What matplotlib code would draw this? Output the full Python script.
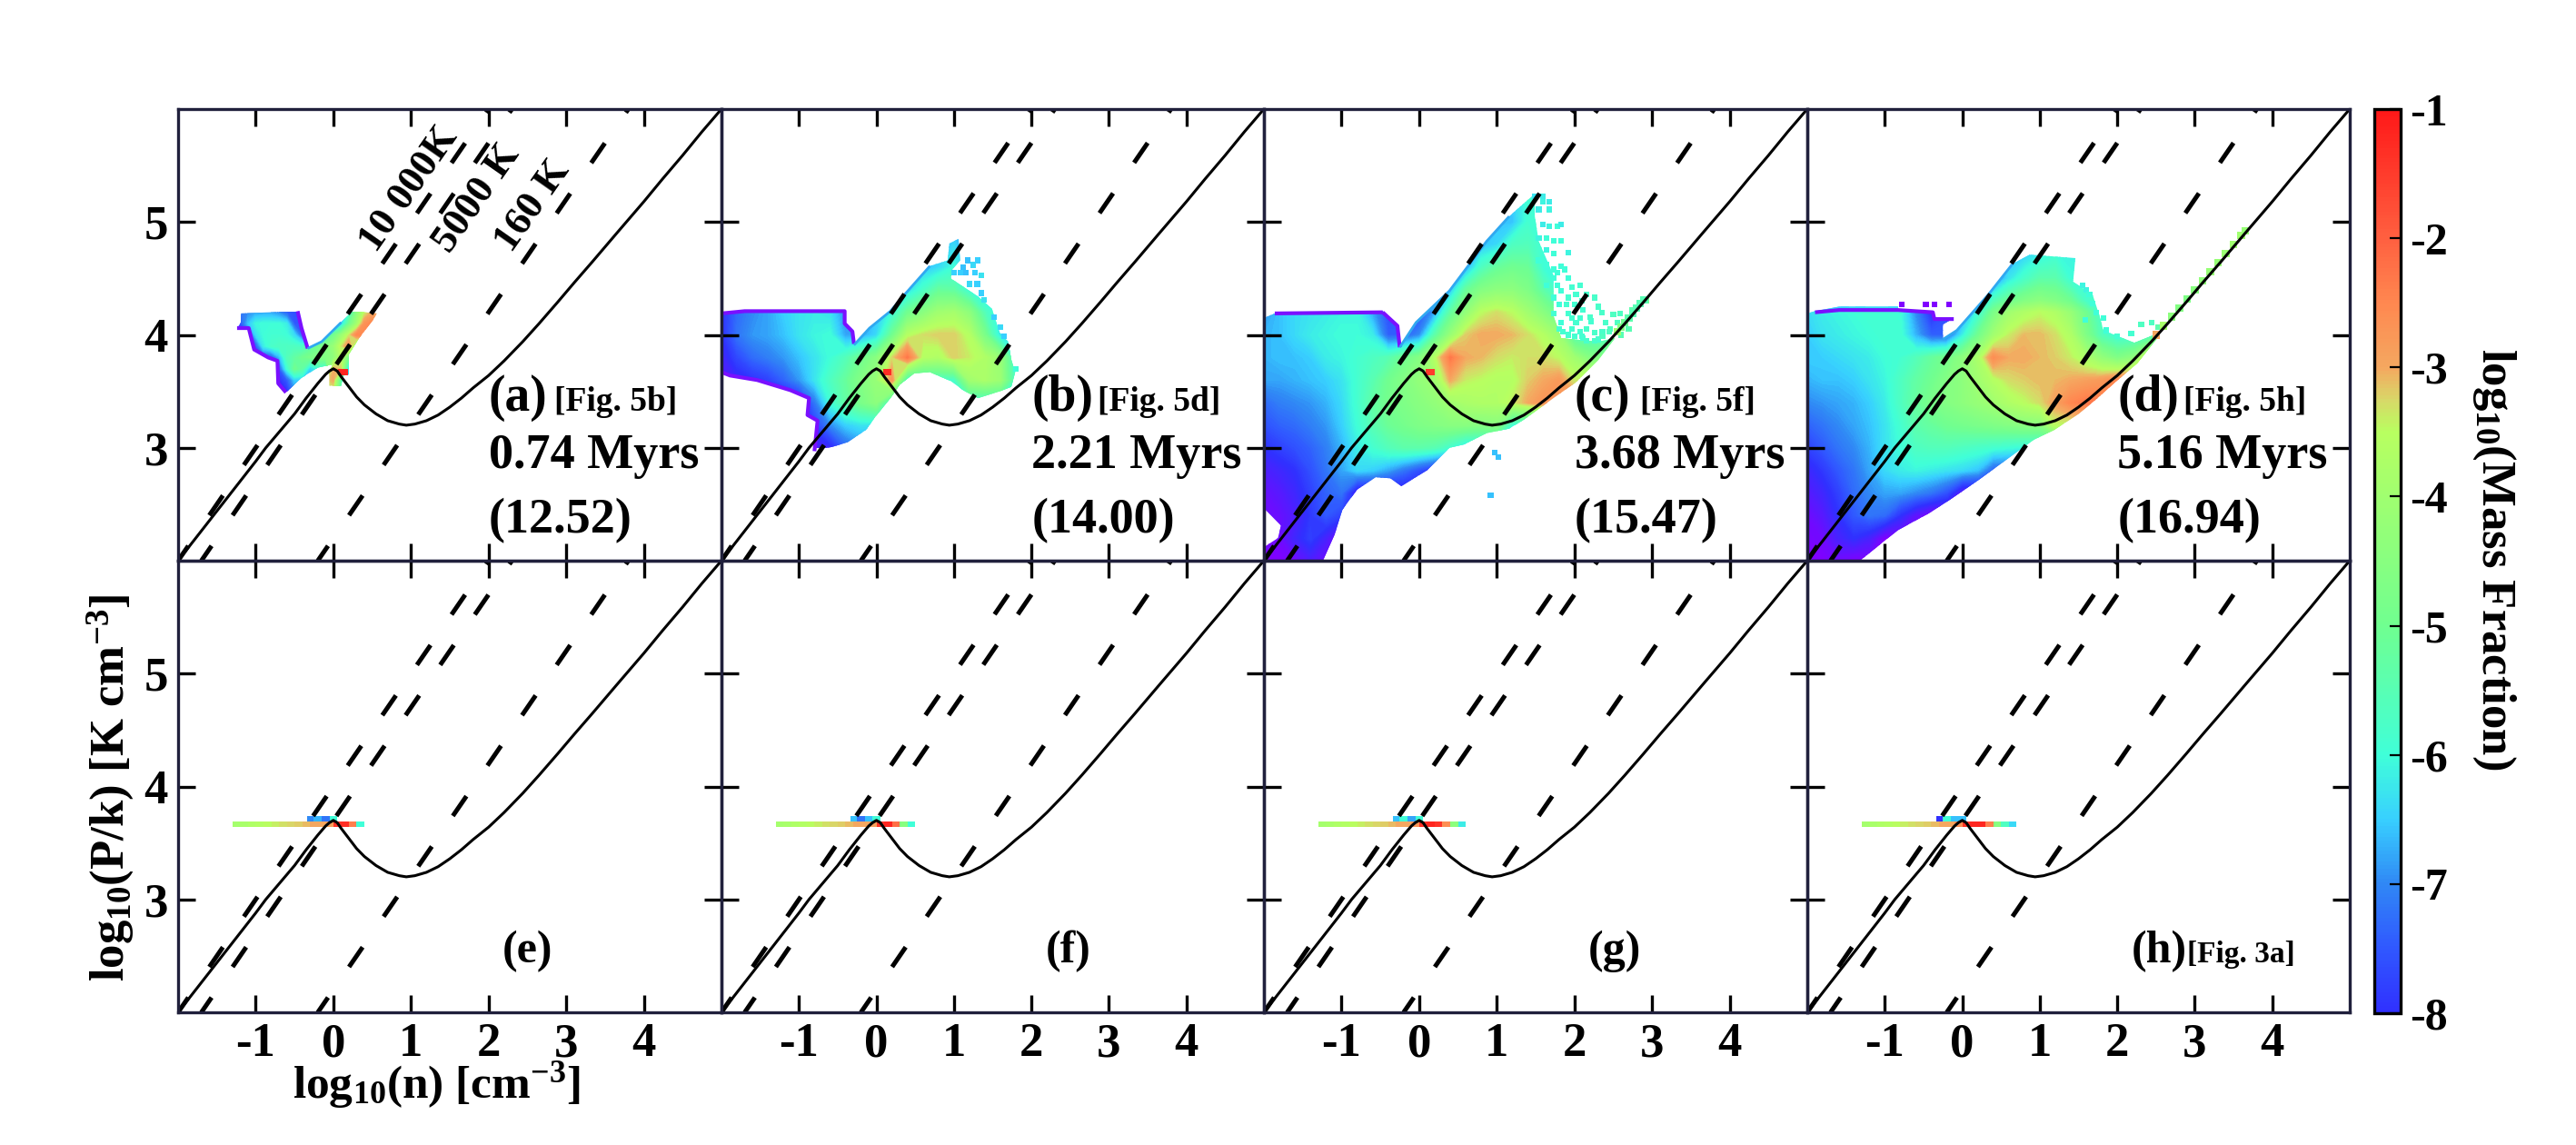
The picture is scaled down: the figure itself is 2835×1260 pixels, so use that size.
import numpy as np
import pandas as pd
import matplotlib
matplotlib.use('Agg')
import matplotlib.pyplot as plt
from matplotlib.cm import ScalarMappable
from matplotlib.colors import LinearSegmentedColormap, Normalize
from matplotlib.patches import Polygon

n = np.nan

# equilibrium curve
curve_x = [-2.0, -1.5, -1.0, -0.87, -0.5, -0.35, -0.2, -0.1, -0.05, 0.0, 0.05, 0.1, 0.2, 0.3, 0.4, 0.55, 0.7, 0.85, 0.94,
           1.05, 1.2, 1.35, 1.5, 1.65, 1.8, 2.0, 2.2, 2.44, 2.65, 2.89, 3.1, 3.34, 3.65, 4.0, 4.24, 4.5, 4.75, 5.0]
curve_y = [2.0, 2.44, 2.88, 3.0, 3.3, 3.44, 3.57, 3.65, 3.68, 3.7, 3.68, 3.63, 3.54, 3.45, 3.38, 3.3, 3.24, 3.21, 3.2,
           3.21, 3.24, 3.29, 3.36, 3.44, 3.53, 3.64, 3.77, 3.94, 4.1, 4.29, 4.46, 4.65, 4.9, 5.18, 5.38, 5.59, 5.8, 6.0]

# isotherms, end points (log n, log P/k)
iso_10000_x = [-2.0, 2.0]
iso_10000_y = [2.0, 6.0]
iso_5000_x = [-1.7, 2.3]
iso_5000_y = [2.0, 6.0]
iso_160_x = [-0.2, 3.8]
iso_160_y = [2.0, 6.0]

# colour anchors, -9 is the purple rim that the colour bar does not show
cmap_vals = [-9, -8, -7.5, -7, -6.5, -6, -5, -4, -3.5, -3.25, -3, -2.5, -2, -1]
cmap_cols = ['#8000ff', '#3030ff', '#3058ff', '#3088f5', '#38d0ff', '#40ffd8', '#70ff90', '#a0ff70', '#b8ff60',
             '#d8d868', '#f4a860', '#ff8850', '#ff6040', '#ff1818']

# outlines of the filled regions
outline_a_x = [-1.19, -0.46, -0.41, -0.33, -0.15, 0.1, 0.25, 0.56, 0.51, 0.33, 0.2, 0.2, 0.13, 0.1, -0.05, -0.05, 0.0, -0.2,
               -0.41, -0.61, -0.71, -0.72, -0.84, -1.02, -1.09, -1.24, -1.19]
outline_a_y = [4.19, 4.21, 4.06, 3.88, 3.94, 4.11, 4.21, 4.19, 4.13, 3.97, 3.83, 3.65, 3.64, 3.55, 3.55, 3.68, 3.74, 3.71,
               3.62, 3.49, 3.57, 3.77, 3.8, 3.87, 4.06, 4.06, 4.11]
outline_b_x = [-2.0, -1.7, -0.41, -0.41, -0.31, -0.29, -0.21, -0.09, 0.18, 0.38, 0.69, 0.92, 0.94, 1.06, 1.08, 0.98, 0.96, 1.31,
               1.49, 1.59, 1.7, 1.74, 1.79, 1.74, 1.59, 1.31, 1.12, 0.96, 0.69, 0.49, 0.3, 0.18, -0.02, -0.13, -0.37, -0.56,
               -0.7, -0.8, -0.76, -0.89, -0.87, -1.11, -1.54, -1.89, -2.0]
outline_b_y = [4.19, 4.22, 4.22, 4.1, 4.03, 3.91, 3.97, 4.06, 4.21, 4.37, 4.61, 4.66, 4.81, 4.85, 4.66, 4.58, 4.5, 4.34,
               4.23, 4.02, 3.94, 3.78, 3.67, 3.54, 3.5, 3.44, 3.51, 3.59, 3.67, 3.66, 3.56, 3.44, 3.27, 3.16, 3.05, 3.01,
               2.99, 2.97, 3.24, 3.29, 3.44, 3.51, 3.6, 3.64, 3.67]
outline_c_x = [-2.0, -1.86, -0.47, -0.28, -0.25, -0.04, 0.39, 0.87, 1.16, 1.49, 1.49, 1.54, 1.73, 1.73, 1.83, 2.31, 2.52, 2.31,
               2.02, 1.73, 1.49, 1.35, 1.16, 0.87, 0.58, 0.39, 0.1, -0.23, -0.37, -0.56, -0.8, -0.99, -1.09, -1.24, -2.0,
               -2.0, -1.82, -1.78, -1.98, -2.0]
outline_c_y = [4.15, 4.19, 4.21, 4.08, 3.89, 4.11, 4.39, 4.83, 5.05, 5.25, 5.05, 4.83, 4.53, 4.17, 3.97, 3.94, 3.97, 3.78,
               3.58, 3.44, 3.32, 3.25, 3.17, 3.13, 3.03, 3.0, 2.8, 2.66, 2.73, 2.74, 2.63, 2.45, 2.23, 2.0, 2.0,
               2.12, 2.2, 2.31, 2.45, 2.45]
outline_d_x = [-2.0, -1.9, -1.59, -0.83, -0.83, -0.38, -0.36, -0.11, -0.25, -0.25, -0.07, 0.34, 0.65, 0.87, 1.46, 1.43, 1.68,
               1.77, 1.82, 2.22, 2.44, 2.55, 2.26, 1.99, 1.73, 1.5, 1.19, 0.92, 0.74, 0.2, -0.16, -0.43, -0.83, -1.05, -1.32, -2.0]
outline_d_y = [4.19, 4.21, 4.25, 4.25, 4.21, 4.21, 4.15, 4.15, 4.09, 3.96, 4.04, 4.36, 4.63, 4.71, 4.68, 4.47, 4.36,
               4.17, 4.04, 3.93, 3.99, 4.0, 3.75, 3.59, 3.43, 3.3, 3.16, 3.07, 2.98, 2.71, 2.54, 2.42, 2.27, 2.15, 2.0, 2.0]

# purple edge pieces
rim_a_x = [-1.24, -1.09, -1.02, -0.84, -0.72, -0.71, -0.61]
rim_a_y = [4.06, 4.06, 3.87, 3.8, 3.77, 3.57, 3.49]
rim_a2_x = [-0.46, -0.41, -0.33]
rim_a2_y = [4.21, 4.06, 3.88]
rim_b_x = [-2.0, -1.7, -0.41, -0.41, -0.31, -0.29]
rim_b_y = [4.19, 4.21, 4.21, 4.1, 4.03, 3.92]
rim_b2_x = [-2.0, -1.89, -1.54, -1.11, -0.87, -0.89, -0.76, -0.8]
rim_b2_y = [3.67, 3.64, 3.6, 3.51, 3.44, 3.29, 3.24, 2.97]
rim_c_x = [-1.86, -0.47]
rim_c_y = [4.19, 4.2]
rim_c2_x = [-0.47, -0.28, -0.25]
rim_c2_y = [4.2, 4.08, 3.89]
rim_d_x = [-1.9, -1.59, -0.83, -0.38, -0.36, -0.11]
rim_d_y = [4.2, 4.22, 4.22, 4.2, 4.14, 4.14]
# thin blue edge up the 10 000 K side
edge_a_x = [-0.33, -0.15, 0.1]
edge_a_y = [3.88, 3.94, 4.11]
edge_b_x = [-0.29, -0.09, 0.18, 0.38, 0.69]
edge_b_y = [3.91, 4.06, 4.21, 4.37, 4.61]
edge_c_x = [-0.25, -0.04, 0.39, 0.87, 1.16]
edge_c_y = [3.89, 4.11, 4.39, 4.83, 5.05]
edge_d_x = [-0.25, -0.07, 0.34, 0.65]
edge_d_y = [3.96, 4.04, 4.36, 4.63]

# rows: (log P/k, first log n, values every 0.2 dex in log n)
panel_b_rows = [
    (4.9, 0.8, [-6.6, -6.6, -6.6]),
    (4.6, 0.6, [-6.6, -6.4, -6.0, -6.6, -6.6]),
    (4.4, 0.2, [-6.6, -6.4, -5.8, -5.2, -5.3, -6.0, -6.6, -6.6]),
    (4.2, -2.0, [-8.0, -7.3, -7.0, -6.8, -6.5, -6.3, -6.2, -6.3, -7.0, n, -6.6, -6.0, -5.0, -4.5, -4.0, -3.9, -4.4, -5.6, -6.3]),
    (4.0, -2.0, [-8.0, -7.2, -6.9, -6.8, -6.6, -6.3, -6.1, -6.0, -6.8, n, -6.4, -5.0, -3.6, -3.3, -3.2, -3.2, -3.6, -4.8, -6.3]),
    (3.8, -2.0, [-8.3, -7.7, -7.3, -7.1, -6.9, -6.6, -6.3, -6.0, -5.6, -5.0, -4.5, -3.3, -2.3, -3.6, -3.7, -3.2, -3.4, -3.7, -4.2, -6.0]),
    (3.6, -2.0, [-8.4, -8.2, -8.0, -7.8, -7.4, -6.9, -6.3, -5.7, -5.2, -4.6, -4.2, -2.7, -5.8, n, n, -5.8, -4.0, -3.8, -4.1, -5.8]),
    (3.4, -2.0, [-8.6, -8.6, -8.6, -8.6, -8.6, -8.2, -7.2, -6.0, -5.3, -4.8, -4.4, -6.0]),
    (3.2, -1.0, [-8.4, -7.8, -7.0, -6.5, -6.3, -6.3]),
    (3.0, -1.0, [-8.6, -8.4, -8.2, -7.4, -7.0, -7.0]),
]
panel_c_rows = [
    (5.4, 1.2, [-6.4, -6.0, -6.2]),
    (5.0, 1.0, [-6.6, -6.6, -5.9, -6.0, -6.0]),
    (4.8, 0.8, [-6.6, -6.4, -5.7, -5.6, -6.0, -6.0]),
    (4.6, 0.6, [-6.8, -5.7, -5.2, -5.0, -5.1, -6.0]),
    (4.4, 0.4, [-6.6, -5.2, -4.6, -4.4, -4.4, -4.7, -5.4, -6.0]),
    (4.2, -2.0, [-6.9, -6.6, -6.4, -6.3, -6.2, -6.1, -6.1, -6.8, -7.6, n, n, -6.8, -5.3, -4.3, -3.5, -3.3, -3.5, -4.0, -4.5, -5.1, -5.9]),
    (4.0, -2.0, [-6.7, -6.6, -6.4, -6.2, -6.1, -6.0, -6.0, -6.2, -7.4, n, -7.0, -5.4, -4.2, -3.2, -3.0, -3.0, -3.1, -3.3, -3.6, -4.1, -5.6, -5.8, -5.8, -4.8]),
    (3.8, -2.0, [-6.7, -6.6, -6.6, -6.5, -6.2, -6.1, -5.9, -5.7, -5.5, -5.0, -4.6, -3.6, -2.3, -3.0, -3.1, -3.3, -3.4, -3.3, -3.3, -3.5, -4.0, -4.6]),
    (3.6, -2.0, [-6.8, -6.8, -6.7, -6.6, -6.5, -6.3, -5.9, -5.5, -5.0, -4.6, -4.3, -4.0, -3.0, -3.4, -3.5, -3.6, -3.6, -3.2, -3.0, -2.8, -3.4]),
    (3.4, -2.0, [-7.3, -7.1, -7.0, -6.9, -6.7, -6.4, -5.9, -5.3, -4.9, -4.7, -4.5, -4.3, -4.0, -3.8, -3.7, -3.7, -3.4, -3.0, -2.7]),
    (3.2, -2.0, [-7.6, -7.4, -7.3, -7.1, -6.9, -6.5, -6.0, -5.5, -5.1, -4.9, -4.7, -4.6, -4.5, -4.5, -4.6, -4.5, -6.0]),
    (3.0, -2.0, [-8.0, -7.8, -7.6, -7.4, -7.1, -6.7, -6.2, -5.9, -5.6, -5.4, -5.4, -5.5, -5.9, -6.4]),
    (2.8, -2.0, [-8.4, -8.2, -8.0, -7.6, -7.2, -6.8, -6.4, -6.5, -6.8, -7.2, -7.6, -8.0]),
    (2.6, -2.0, [-8.7, -8.5, -8.2, -7.8, -7.4, -7.2, -8.4]),
    (2.4, -1.8, [-8.7, -8.4, -7.9, -7.5, -7.8]),
    (2.2, -1.8, [-8.8, -8.2, -7.8, -8.3, -9]),
    (2.0, -2.0, [-9, -9, -8.8, -8.4, -8.8]),
]
panel_d_rows = [
    (4.8, 0.6, [-6.8, -6.8, -6.5, -6.2, -6.2, -6.2]),
    (4.5, 0.4, [-7.2, -6.3, -5.8, -5.4, -5.4, -6.0]),
    (4.3, 0.2, [-7.0, -5.6, -5.0, -4.6, -4.4, -4.6, -5.0, -5.8]),
    (4.2, -2.0, [-6.4, -6.2, -6.1, -6.0, -5.9, -5.9, -6.0, -7.0, -8.0, -7.6, -7.0, -6.0, -4.8, -4.0, -3.7, -3.5, -3.7, -4.2, -5.0, -5.9]),
    (4.0, -2.0, [-6.5, -6.3, -6.2, -6.1, -6.0, -5.9, -5.9, -6.7, -7.4, -7.4, -6.2, -5.0, -4.0, -3.4, -3.1, -3.1, -3.3, -3.7, -4.7, -5.6, -6.0, -6.0, -5.8, -5.0]),
    (3.8, -2.0, [-6.5, -6.5, -6.4, -6.3, -6.2, -6.0, -5.9, -5.6, -5.2, -4.9, -4.4, -3.8, -2.6, -3.0, -3.0, -3.1, -3.2, -3.4, -3.8, -4.3, -4.7, -4.4, -3.2]),
    (3.6, -2.0, [-6.7, -6.6, -6.6, -6.5, -6.3, -6.1, -5.7, -5.3, -5.0, -4.6, -4.4, -4.0, -3.6, -3.3, -3.2, -3.1, -3.1, -3.0, -2.9, -2.8, -2.5]),
    (3.4, -2.0, [-7.0, -6.9, -6.8, -6.7, -6.5, -6.2, -5.7, -5.2, -4.8, -4.6, -4.4, -4.2, -4.0, -3.7, -3.5, -3.3, -2.9, -2.5, -2.3]),
    (3.2, -2.0, [-7.4, -7.2, -7.0, -6.8, -6.6, -6.3, -5.9, -5.4, -5.2, -5.0, -4.9, -4.8, -4.7, -4.6, -4.5, -4.5, -3.5]),
    (3.0, -2.0, [-7.8, -7.5, -7.2, -7.0, -6.7, -6.3, -6.0, -5.7, -5.6, -5.6, -5.7, -5.8, -5.9, -6.0, -6.1]),
    (2.8, -2.0, [-8.2, -7.9, -7.5, -7.2, -6.8, -6.4, -6.2, -6.1, -6.2, -6.3, -6.4, -6.6, -7.4]),
    (2.6, -2.0, [-8.5, -8.2, -7.8, -7.3, -7.0, -6.8, -6.8, -7.0, -7.2, -7.6, -8.6]),
    (2.4, -2.0, [-8.8, -8.5, -8.0, -7.5, -7.2, -7.3, -8.0, -8.6, -9]),
    (2.2, -2.0, [-8.9, -8.8, -8.3, -8.0, -8.3, -9]),
    (2.0, -2.0, [-9, -9, -8.8, -9]),
]
# panel a is small, values every 0.1 dex
panel_a_rows = [
    (4.2, -1.3, [-7.2, -7.2, -7.0, -6.8, -6.8, -6.8, -7.0, -7.4, -7.6, n, n, n, n, n, n, -6.0, -4.5, -3.5, -3.0, -3.0]),
    (4.1, -1.3, [-7.6, -7.6, -6.6, -6.1, -6.0, -6.0, -6.0, -6.2, -7.5, n, n, n, n, n, -6.5, -5.0, -4.0, -2.7, -2.5, -2.5]),
    (4.0, -1.3, [n, n, -7.6, -6.4, -6.0, -5.9, -5.9, -6.0, -6.4, -7.4, -7.0, -6.8, -6.0, -5.0, -4.2, -3.4, -2.5, -2.5]),
    (3.9, -1.0, [-7.5, -6.2, -5.8, -5.7, -5.7, -5.7, -5.8, -5.4, -5.0, -4.6, -4.2, -3.4, -2.6, -4.5]),
    (3.8, -0.8, [-7.5, -6.7, -5.6, -5.3, -5.0, -4.8, -4.6, -4.6, -4.4, -3.6, -5.0]),
    (3.7, -0.7, [-7.5, -6.0, -5.0, -5.3, -6.5, -6.0, -6.0, -3.0, -3.2, -6.7]),
    (3.6, -0.7, [-8.0, -7.5, -6.5, -6.5, -6.5, -6.0, -3.3, -3.0, -5.5, -6.5]),
    (3.5, -0.7, [-8.0, -8.0, -7.0, -7.0, -7.0, -7.0, -3.5, -3.5, -5.5, -6.5]),
]

# single cells outside the filled part: x, y, value
cells_a_x = [0.1, 0.15]
cells_a_y = [3.67, 3.67]
cells_a_v = [-1.2, -1.2]
cells_b_x = [1.12, 1.18, 1.25, 1.31, 1.0, 1.08, 1.15, 1.27, 1.35, 1.2, 1.3, 1.35, 1.39, 1.52, 1.6, 1.65, 1.8, 0.12, 0.16]
cells_b_y = [4.6, 4.66, 4.62, 4.66, 4.55, 4.55, 4.55, 4.55, 4.53, 4.45, 4.45, 4.37, 4.31, 4.16, 4.07, 3.99, 3.7, 3.67, 3.67]
cells_b_v = [-6.6, -6.6, -6.4, -6.5, -6.5, -6.5, -6.6, -6.5, -6.3, -6.4, -6.5, -6.5, -6.3, -6.5, -6.4, -6.5, -6.0, -1.3, -1.3]
cells_c_x = [1.49, 1.59, 1.59, 1.68, 1.54, 1.68, 1.59, 1.68, 1.78, 1.83, 1.54, 1.64, 1.73, 1.83, 1.64, 1.73, 1.92, 1.54, 1.64, 1.73,
             1.83, 1.73, 1.92, 1.64, 1.83, 2.07, 1.73, 1.92, 2.02, 2.16, 2.26, 1.73, 1.92, 2.11, 2.31, 2.5, 2.59, 2.74, 1.83, 2.02,
             2.21, 2.4, 2.55, 1.92, 2.11, 2.31, 2.45, 2.83, 2.93, 0.97, 1.02, 0.92, 0.12, 0.17,
             1.78, 1.87, 1.78, 1.97, 1.8, 1.9, 2.0, 2.1, 1.8, 1.97, 2.07, 2.2, 2.35, 1.85, 1.97, 2.07, 2.16, 2.26, 2.36, 2.46, 2.65, 2.7,
             2.0, 2.1, 2.16, 2.26, 2.36, 2.6]
cells_c_y = [5.23, 5.23, 5.18, 5.18, 5.11, 5.11, 4.98, 4.96, 4.96, 4.98, 4.86, 4.86, 4.83, 4.83, 4.75, 4.72, 4.73, 4.66, 4.62, 4.58,
             4.61, 4.5, 4.5, 4.44, 4.39, 4.44, 4.33, 4.33, 4.36, 4.36, 4.33, 4.19, 4.19, 4.22, 4.25, 4.18, 4.19, 4.22, 4.11, 4.11,
             4.12, 4.11, 4.11, 4.0, 3.97, 3.96, 4.03, 4.28, 4.3, 2.96, 2.92, 2.58, 3.67, 3.67,
             4.55, 4.58, 4.44, 4.42, 4.27, 4.27, 4.27, 4.3, 4.05, 4.15, 4.15, 4.16, 4.2, 4.03, 4.05, 4.03, 4.05, 4.02, 4.03, 4.05, 4.1, 4.05,
             3.99, 3.99, 3.95, 3.95, 3.99, 4.0]
cells_c_v = [-6.3, -6.2, -6.1, -6.2, -6.2, -6.1, -6.2, -6.1, -6.0, -6.2, -6.1, -6.0, -6.0, -6.0, -6.1, -6.0, -6.1, -6.0, -6.0, -6.0,
             -6.0, -6.0, -6.0, -6.0, -6.0, -5.9, -6.0, -5.9, -5.9, -5.8, -5.8, -5.9, -5.9, -5.9, -5.8, -5.7, -5.7, -5.4, -6.0, -5.9,
             -5.9, -5.8, -5.7, -5.9, -5.9, -5.9, -5.7, -5.0, -4.8, -6.6, -6.6, -6.6, -1.5, -1.5,
             -6.0, -6.0, -6.0, -5.9, -6.0, -5.9, -5.9, -5.9, -5.9, -5.9, -5.9, -5.8, -5.8, -5.9, -5.9, -5.9, -5.8, -5.8, -5.8, -5.7, -5.4, -5.5,
             -5.9, -5.9, -5.8, -5.8, -5.7, -5.5]
cells_d_x = [1.55, 1.6, 1.64, 1.68, 1.73, 1.82, 1.59, 1.86, 2.0, 2.18, 2.31, 2.44, 2.53, -0.17, -0.47, -0.78, -0.36]
cells_d_y = [4.44, 4.4, 4.36, 4.28, 4.2, 4.15, 4.13, 4.04, 3.99, 4.01, 4.09, 4.11, 4.07, 4.27, 4.27, 4.27, 4.27]
cells_d_v = [-6.1, -6.1, -6.0, -6.0, -6.0, -6.0, -6.0, -6.0, -5.9, -5.9, -5.7, -5.7, -5.4, -9, -9, -9, -9]

# thin band right above the curve
band_c_x = [2.55, 2.6, 2.65, 2.7, 2.75, 2.8, 2.85, 2.9]
band_c_y = [4.03, 4.07, 4.11, 4.15, 4.19, 4.24, 4.28, 4.31]
band_c_v = [-4.0, -4.6, -5.0, -5.4, -5.5, -5.5, -5.5, -5.5]
band_d_x = [2.5, 2.6, 2.7, 2.8, 2.9, 3.0, 3.1, 3.2, 3.3, 3.4, 3.5, 3.6, 3.65]
band_d_y = [4.0, 4.08, 4.16, 4.24, 4.32, 4.4, 4.48, 4.56, 4.64, 4.72, 4.8, 4.88, 4.92]
band_d_v = [-3.0, -3.8, -4.4, -4.6, -4.7, -4.5, -4.3, -4.2, -4.2, -4.1, -4.0, -4.0, -4.2]

# the IC line in the lower row: values every 0.1 dex, starting at log n = -1.3
line_e = [-3.9, -3.8, -3.7, -3.6, -3.5, -3.4, -3.3, -3.25, -3.2, -3.1, -3.0, -3.0, -2.9, -1.4, -1.3, -2.4, -6.0]
line_f = [-3.9, -3.8, -3.7, -3.6, -3.5, -3.4, -3.3, -3.25, -3.2, -3.1, -3.0, -3.0, -2.9, -1.4, -1.2, -2.2, -4.5, -6.0]
line_g = [-3.9, -3.8, -3.7, -3.6, -3.5, -3.4, -3.3, -3.25, -3.2, -3.1, -3.0, -3.0, -2.7, -1.4, -1.2, -1.4, -2.6, -4.4, -6.2]
line_h = [-3.9, -3.8, -3.7, -3.6, -3.5, -3.4, -3.3, -3.25, -3.2, -3.1, -3.0, -3.0, -2.6, -1.4, -1.2, -1.2, -2.4, -4.5, -5.7, -6.4]
# cells just above it, near the peak
upper_x = [-0.3, -0.2, -0.1, 0.0]
upper_e = [-7.0, -6.7, -7.2, -6.0]
upper_f = [-6.6, -7.2, -6.6, -6.0]
upper_g = [-6.6, -6.0, -6.8, -6.0]
upper_h = [-8.0, -6.0, -6.6, -6.6]

panel_labels = ['(a)', '(b)', '(c)', '(d)', '(e)', '(f)', '(g)', '(h)']
fig_refs = ['[Fig. 5b]', '[Fig. 5d]', '[Fig. 5f]', '[Fig. 5h]', '', '', '', '[Fig. 3a]']
times = ['0.74 Myrs', '2.21 Myrs', '3.68 Myrs', '5.16 Myrs']
ages = ['(12.52)', '(14.00)', '(15.47)', '(16.94)']
x_ticks = [-1, 0, 1, 2, 3, 4]
x_tick_labels = ['-1', '0', '1', '2', '3', '4']
y_ticks = [3, 4, 5]
cbar_ticks = [-1, -2, -3, -4, -5, -6, -7, -8]
cbar_labels = ['-1', '-2', '-3', '-4', '-5', '-6', '-7', '-8']

plt.rcParams['font.family'] = 'Liberation Serif'
plt.rcParams['font.weight'] = 'bold'
plt.rcParams['mathtext.default'] = 'regular'

W, H = 2835.0, 1260.0
DARK = '#20203c'
PURPLE = '#7a10ff'
EDGE_BLUE = '#30a8f0'
cmap = LinearSegmentedColormap.from_list('mass', [((v + 9) / 8.0, c) for v, c in zip(cmap_vals, cmap_cols)], N=512)
norm = Normalize(-9, -1)
levels = np.linspace(-9, -1, 161)


def px_axes(x0, x1, y0, y1):
    return fig.add_axes([x0 / W, 1 - y1 / H, (x1 - x0) / W, (y1 - y0) / H])


def draw_rows(ax, rows, dx, out_x, out_y):
    x0 = min(r[1] for r in rows)
    x1 = max(r[1] + dx * (len(r[2]) - 1) for r in rows)
    nx = int(round((x1 - x0) / dx)) + 1
    xs = x0 + dx * np.arange(nx)
    rows = sorted(rows, key=lambda r: r[0])
    ys = [r[0] for r in rows]
    z = np.full((len(ys), nx), np.nan)
    for j, r in enumerate(rows):
        i0 = int(round((r[1] - x0) / dx))
        z[j, i0:i0 + len(r[2])] = r[2]
    # nodes that fall outside the outline only need some value, the outline clips them
    z = pd.DataFrame(z).ffill(axis=1).bfill(axis=1).to_numpy()
    cs = ax.contourf(xs, ys, z, levels=levels, cmap=cmap, norm=norm, extend='both', antialiased=False, zorder=1)
    cs.set_clip_path(Polygon(np.column_stack([out_x, out_y]), closed=True, transform=ax.transData))


def draw_cells(ax, x, y, v, size=20):
    ax.scatter(x, y, c=v, s=size, marker='s', cmap=cmap, norm=norm, linewidths=0, zorder=1.5)


def draw_rims(ax, pieces, color, lw):
    for px, py in pieces:
        ax.plot(px, py, color=color, lw=lw, solid_capstyle='butt', zorder=2)


def draw_ic_line(ax, vals, upper):
    edges = -1.3 + 0.1 * np.arange(len(vals) + 1)
    ax.pcolormesh(edges, [3.645, 3.69], np.array([vals]), cmap=cmap, norm=norm, zorder=1)
    up_edges = [upper_x[0] - 0.04] + [u + 0.05 for u in upper_x]
    ax.pcolormesh(up_edges, [3.69, 3.735], np.array([upper]), cmap=cmap, norm=norm, zorder=1)


fig = plt.figure(figsize=(W / 100, H / 100), dpi=100, facecolor='white')
x_edges = [196, 794, 1391, 1989, 2586]
y_edges = [120, 617, 1114]
rows_all = [panel_a_rows, panel_b_rows, panel_c_rows, panel_d_rows]
outlines = [(outline_a_x, outline_a_y), (outline_b_x, outline_b_y), (outline_c_x, outline_c_y), (outline_d_x, outline_d_y)]
cells_all = [(cells_a_x, cells_a_y, cells_a_v), (cells_b_x, cells_b_y, cells_b_v),
             (cells_c_x, cells_c_y, cells_c_v), (cells_d_x, cells_d_y, cells_d_v)]
rims_all = [[(rim_a_x, rim_a_y), (rim_a2_x, rim_a2_y)], [(rim_b_x, rim_b_y), (rim_b2_x, rim_b2_y)],
            [(rim_c_x, rim_c_y), (rim_c2_x, rim_c2_y)], [(rim_d_x, rim_d_y)]]
edges_all = [(edge_a_x, edge_a_y), (edge_b_x, edge_b_y), (edge_c_x, edge_c_y), (edge_d_x, edge_d_y)]
lines_all = [(line_e, upper_e), (line_f, upper_f), (line_g, upper_g), (line_h, upper_h)]

for k in range(8):
    row, col = k // 4, k % 4
    ax = px_axes(x_edges[col], x_edges[col + 1], y_edges[row], y_edges[row + 1])
    ax.set_xlim(-2, 5)
    ax.set_ylim(2, 6)
    if row == 0:
        draw_rows(ax, rows_all[col], 0.1 if col == 0 else 0.2, *outlines[col])
        draw_cells(ax, *cells_all[col])
        draw_rims(ax, rims_all[col], PURPLE, 3.0)
        draw_rims(ax, [edges_all[col]], EDGE_BLUE, 2.0)
        if col == 2:
            draw_cells(ax, band_c_x, band_c_y, band_c_v, size=36)
        if col == 3:
            draw_cells(ax, band_d_x, band_d_y, band_d_v, size=36)
    else:
        draw_ic_line(ax, *lines_all[col])

    for xx, yy in [(iso_10000_x, iso_10000_y), (iso_5000_x, iso_5000_y), (iso_160_x, iso_160_y)]:
        ax.plot(xx, yy, color='black', lw=3.6, linestyle=(4.75 / 3.6, (19 / 3.6, 29.4 / 3.6)),
                dash_capstyle='butt', zorder=3)
    ax.plot(curve_x, curve_y, color='black', lw=2.2, zorder=4)

    for side in ax.spines.values():
        side.set_color(DARK)
        side.set_linewidth(2.4)
        side.set_zorder(6)
    ax.set_xticks(x_ticks)
    ax.set_yticks(y_ticks)
    ax.tick_params(axis='both', direction='in', top=True, right=True, length=14, width=2.4, color='black')
    ax.set_xticklabels(x_tick_labels if row == 1 else [], fontsize=38, fontweight='bold')
    ax.set_yticklabels(['3', '4', '5'] if col == 0 else [], fontsize=38, fontweight='bold')
    ax.tick_params(axis='x', pad=8)
    ax.tick_params(axis='y', pad=8)
    ax.patch.set_alpha(0)

    if row == 0:
        ax.text(2.0, 3.33, panel_labels[k], fontsize=40, fontweight='bold', zorder=7)
        ax.text(2.85, 3.33, fig_refs[k], fontsize=27, fontweight='bold', zorder=7)
        ax.text(2.0, 2.82, times[col], fontsize=39, fontweight='bold', zorder=7)
        ax.text(2.0, 2.25, ages[col], fontsize=39, fontweight='bold', zorder=7)
    else:
        ax.text(2.18, 2.44, panel_labels[k], fontsize=36, fontweight='bold', zorder=7)
        if fig_refs[k]:
            ax.text(2.9, 2.44, fig_refs[k], fontsize=24, fontweight='bold', zorder=7)
    if k == 0:
        ax.text(0.98, 5.29, '10 000K', fontsize=32, fontweight='bold', rotation=55, ha='center', va='center',
                rotation_mode='anchor', zorder=7)
        ax.text(1.85, 5.21, '5000 K', fontsize=32, fontweight='bold', rotation=55, ha='center', va='center',
                rotation_mode='anchor', zorder=7)
        ax.text(2.57, 5.14, '160 K', fontsize=32, fontweight='bold', rotation=55, ha='center', va='center',
                rotation_mode='anchor', zorder=7)

fig.text(480 / W, 1 - 1208 / H, 'log$_{10}$(n) [cm$^{-3}$]', fontsize=37, fontweight='bold', ha='center', va='baseline')
fig.text(122 / W, 1 - 867 / H, 'log$_{10}$(P/k) [K cm$^{-3}$]', fontsize=38, fontweight='bold', rotation=90,
         ha='center', va='center')

cax = px_axes(2613, 2642, 120, 1115)
cb = fig.colorbar(ScalarMappable(norm=norm, cmap=cmap), cax=cax, boundaries=np.linspace(-8, -1, 257),
                  ticks=cbar_ticks)
cb.outline.set_edgecolor('black')
cb.outline.set_linewidth(2.4)
cb.ax.set_yticklabels(cbar_labels, fontsize=36, fontweight='bold')
cb.ax.tick_params(direction='in', length=9, width=1.6, color='black', pad=7)
fig.text(2745 / W, 1 - 615 / H, 'log$_{10}$(Mass Fraction)', fontsize=38, fontweight='bold', rotation=270,
         ha='center', va='center')

fig.savefig('out.png', dpi=100)
